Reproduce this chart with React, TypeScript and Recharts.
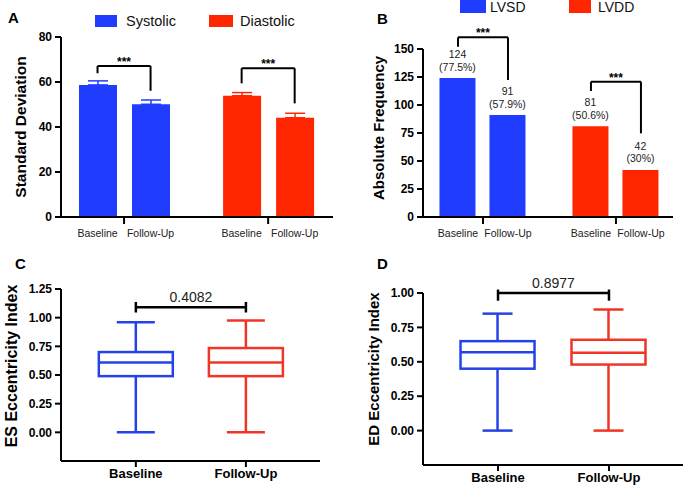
import React from 'react';
import {
  Bar,
  BarChart,
  Cell,
  ErrorBar,
  LabelList,
  Legend,
  ReferenceLine,
  XAxis,
  YAxis,
} from 'recharts';

const FONT = '"Liberation Sans", Arial, Helvetica, sans-serif';
const BLUE = '#1f3cff';
const RED = '#ff2600';
const BOX_BLUE = '#2442e8';
const BOX_RED = '#ef3526';

const timepoints = ['Baseline', 'Follow-Up'];

// A: standard deviation (mean + SEM)
const sdGroups = ['Systolic', 'Diastolic'];
const sdBaseline = [58.7, 53.9];
const sdFollowUp = [50.1, 44.1];
const sdBaselineErr = [1.8, 1.4];
const sdFollowUpErr = [1.9, 2.0];
const sdTicks = [0, 20, 40, 60, 80];
// bracket: [level, left leg end, right leg end]
const sdBrackets = [
  [67.1, 63.9, 56.1],
  [66.1, 59.4, 50.5],
];

// B: absolute frequency
const freqGroups = ['LVSD', 'LVDD'];
const freqBaseline = [124, 81];
const freqFollowUp = [91, 42];
const pctBaseline = ['77.5%', '50.6%'];
const pctFollowUp = ['57.9%', '30%'];
const freqTicks = [0, 25, 50, 75, 100, 125, 150];
const freqBrackets = [
  [160.4, 152, 122.3],
  [120.8, 112.5, 74.7],
];

// C / D: [min, q1, median, q3, max]
const esBaseline = [0, 0.49, 0.61, 0.7, 0.96];
const esFollowUp = [0, 0.49, 0.61, 0.735, 0.975];
const edBaseline = [0, 0.45, 0.57, 0.65, 0.85];
const edFollowUp = [0, 0.48, 0.565, 0.66, 0.88];
const esTicks = [0, 0.25, 0.5, 0.75, 1, 1.25];
const edTicks = [0, 0.25, 0.5, 0.75, 1];
const esP = '0.4082';
const edP = '0.8977';

const sdData = sdGroups.map((g, i) => ({
  x: i + 1,
  group: g,
  base: sdBaseline[i],
  follow: sdFollowUp[i],
  baseErr: sdBaselineErr[i],
  followErr: sdFollowUpErr[i],
}));

const freqData = freqGroups.map((g, i) => ({
  x: i + 1,
  group: g,
  base: freqBaseline[i],
  follow: freqFollowUp[i],
}));

const esData = [
  { x: 1, stats: esBaseline },
  { x: 2, stats: esFollowUp },
];
const edData = [
  { x: 1, stats: edBaseline },
  { x: 2, stats: edFollowUp },
];

const groupColors = [BLUE, RED];
const boxColors = [BOX_BLUE, BOX_RED];

const axisLine = { stroke: '#000', strokeWidth: 2 };
const yTick = { fill: '#000', fontSize: 12, fontWeight: 700, fontFamily: FONT };

const yTitle = (text: string, x: number, y: number, size: number) => () => (
  <text
    x={x}
    y={y}
    transform={`rotate(-90 ${x} ${y})`}
    textAnchor='middle'
    dominantBaseline='central'
    fontSize={size}
    fontWeight={700}
    fontFamily={FONT}
    fill='#000'>
    {text}
  </text>
);

const pairTick = (half: number) => (props: any) => {
  const { x, y } = props;
  return (
    <g fontFamily={FONT} fontSize={10.5} fill='#222'>
      <text x={x - half} y={y + 7} textAnchor='middle' dominantBaseline='central'>
        {timepoints[0]}
      </text>
      <text x={x + half} y={y + 7} textAnchor='middle' dominantBaseline='central'>
        {timepoints[1]}
      </text>
    </g>
  );
};

const legendBoxes =
  (items: { label: string; color: string; x: number; w: number; tx: number }[], y: number, h: number, size: number) =>
  () => (
    <svg width={345} height={32} style={{ display: 'block' }}>
      {items.map((it) => (
        <g key={it.label}>
          <rect x={it.x} y={y} width={it.w} height={h} fill={it.color} />
          <text x={it.tx} y={y + h / 2} dominantBaseline='central' fontSize={size} fontFamily={FONT} fill='#111'>
            {it.label}
          </text>
        </g>
      ))}
    </svg>
  );

const bracketLines = (brackets: number[][], half: number, key: string) =>
  brackets.flatMap(([top, l, r], i) => {
    const cx = i + 1;
    const common = { stroke: '#000', strokeWidth: 2, ifOverflow: 'visible' as const };
    return [
      <ReferenceLine
        key={`${key}h${i}`}
        {...common}
        segment={[
          { x: cx - half, y: top },
          { x: cx + half, y: top },
        ]}
        label={{ value: '***', position: 'top', offset: 0, fill: '#000', fontSize: 12, fontWeight: 700, fontFamily: FONT }}
      />,
      <ReferenceLine
        key={`${key}l${i}`}
        {...common}
        segment={[
          { x: cx - half, y: top },
          { x: cx - half, y: l },
        ]}
      />,
      <ReferenceLine
        key={`${key}r${i}`}
        {...common}
        segment={[
          { x: cx + half, y: top },
          { x: cx + half, y: r },
        ]}
      />,
    ];
  });

const pctLabel = (pcts: string[]) => (props: any) => {
  const vb = props.viewBox || props;
  const { x, y, width } = vb;
  const cx = x + width / 2;
  return (
    <text x={cx} y={y - 20} textAnchor='middle' fontSize={10.5} fill='#222' fontFamily={FONT}>
      <tspan x={cx}>{props.value}</tspan>
      <tspan x={cx} dy={12.5}>
        ({pcts[props.index]})
      </tspan>
    </text>
  );
};

const boxShape = (capHalf: number) => (props: any) => {
  const { x, y, width, height, payload, index } = props;
  const [mn, q1, med, q3, mx] = payload.stats;
  const py = (v: number) => y + (height * (mx - v)) / (mx - mn);
  const cx = x + width / 2;
  const c = boxColors[index];
  return (
    <g stroke={c} strokeWidth={2.5} fill='none'>
      <line x1={cx} x2={cx} y1={py(mx)} y2={py(q3)} />
      <line x1={cx} x2={cx} y1={py(q1)} y2={py(mn)} />
      <line x1={cx - capHalf} x2={cx + capHalf} y1={py(mx)} y2={py(mx)} />
      <line x1={cx - capHalf} x2={cx + capHalf} y1={py(mn)} y2={py(mn)} />
      <rect x={x} y={py(q3)} width={width} height={py(q1) - py(q3)} />
      <line x1={x} x2={x + width} y1={py(med)} y2={py(med)} />
    </g>
  );
};

const pBracket = (y: number, lo: number, hi: number, p: string) => {
  const common = { stroke: '#000', strokeWidth: 2.5, ifOverflow: 'visible' as const };
  return [
    <ReferenceLine
      key='ph'
      {...common}
      segment={[
        { x: 1, y },
        { x: 2, y },
      ]}
      label={{ value: p, position: 'top', offset: 5, fill: '#222', fontSize: 14, fontFamily: FONT }}
    />,
    <ReferenceLine
      key='pl'
      {...common}
      segment={[
        { x: 1, y: lo },
        { x: 1, y: hi },
      ]}
    />,
    <ReferenceLine
      key='pr'
      {...common}
      segment={[
        { x: 2, y: lo },
        { x: 2, y: hi },
      ]}
    />,
  ];
};

// error bar only upward, only for the given group (rect items may or may not spread the row)
const errKey = (group: string, field: 'baseErr' | 'followErr') => (d: any) => {
  const row = d && d.payload ? d.payload : d;
  return row && row.group === group ? [0, row[field]] : null;
};

function PanelA() {
  return (
    <BarChart
      width={340}
      height={250}
      data={sdData}
      margin={{ top: 37, right: 7, left: 0, bottom: 5 }}
      barSize={38}
      barGap={15}>
      <XAxis
        dataKey='x'
        type='number'
        domain={[0.5625, 2.45]}
        ticks={[1, 2]}
        allowDataOverflow
        height={28}
        axisLine={axisLine}
        tickLine={axisLine}
        tickSize={7}
        tick={pairTick(26.5)}
      />
      <YAxis
        width={61}
        domain={[0, 80]}
        ticks={sdTicks}
        allowDataOverflow
        axisLine={axisLine}
        tickLine={axisLine}
        tickSize={6}
        tickMargin={3}
        tick={yTick}
        label={yTitle('Standard Deviation', 20, 127, 15.5)}
      />
      <Legend
        layout='horizontal'
        verticalAlign='middle'
        align='center'
        wrapperStyle={{ top: 0, left: 0, width: 340, height: 32 }}
        content={legendBoxes(
          [
            { label: 'Systolic', color: BLUE, x: 95, w: 22, tx: 126 },
            { label: 'Diastolic', color: RED, x: 209, w: 24, tx: 240 },
          ],
          15,
          12,
          14.5
        )}
      />
      <Bar dataKey='base' isAnimationActive={false}>
        {sdData.map((_, i) => (
          <Cell key={i} fill={groupColors[i]} />
        ))}
        <ErrorBar dataKey={errKey('Systolic', 'baseErr')} width={10} stroke={BLUE} strokeWidth={1.5} direction='y' />
        <ErrorBar dataKey={errKey('Diastolic', 'baseErr')} width={10} stroke={RED} strokeWidth={1.5} direction='y' />
      </Bar>
      <Bar dataKey='follow' isAnimationActive={false}>
        {sdData.map((_, i) => (
          <Cell key={i} fill={groupColors[i]} />
        ))}
        <ErrorBar dataKey={errKey('Systolic', 'followErr')} width={10} stroke={BLUE} strokeWidth={1.5} direction='y' />
        <ErrorBar dataKey={errKey('Diastolic', 'followErr')} width={10} stroke={RED} strokeWidth={1.5} direction='y' />
      </Bar>
      {bracketLines(sdBrackets, 26.5 / 144, 'a')}
    </BarChart>
  );
}

function PanelB() {
  return (
    <BarChart
      width={345}
      height={250}
      data={freqData}
      margin={{ top: 49, right: 12, left: 0, bottom: 5 }}
      barSize={36}
      barGap={14}>
      <XAxis
        dataKey='x'
        type='number'
        domain={[0.549, 2.429]}
        ticks={[1, 2]}
        allowDataOverflow
        height={28}
        axisLine={axisLine}
        tickLine={axisLine}
        tickSize={7}
        tick={pairTick(25)}
      />
      <YAxis
        width={83}
        domain={[0, 150]}
        ticks={freqTicks}
        axisLine={axisLine}
        tickLine={axisLine}
        tickSize={6}
        tickMargin={3}
        tick={yTick}
        label={yTitle('Absolute Frequency', 38, 128, 15)}
      />
      <Legend
        layout='horizontal'
        verticalAlign='middle'
        align='center'
        wrapperStyle={{ top: 0, left: 0, width: 345, height: 32 }}
        content={legendBoxes(
          [
            { label: 'LVSD', color: BLUE, x: 120, w: 26, tx: 150 },
            { label: 'LVDD', color: RED, x: 229, w: 22, tx: 258 },
          ],
          0,
          13,
          14
        )}
      />
      <Bar dataKey='base' isAnimationActive={false}>
        {freqData.map((_, i) => (
          <Cell key={i} fill={groupColors[i]} />
        ))}
        <LabelList dataKey='base' content={pctLabel(pctBaseline)} />
      </Bar>
      <Bar dataKey='follow' isAnimationActive={false}>
        {freqData.map((_, i) => (
          <Cell key={i} fill={groupColors[i]} />
        ))}
        <LabelList dataKey='follow' content={pctLabel(pctFollowUp)} />
      </Bar>
      {bracketLines(freqBrackets, 25 / 133, 'b')}
    </BarChart>
  );
}

function BoxPanel(props: {
  data: { x: number; stats: number[] }[];
  width: number;
  margin: { top: number; right: number; left: number; bottom: number };
  yWidth: number;
  xHeight: number;
  xDomain: [number, number];
  yDomain: [number, number];
  ticks: number[];
  title: string;
  titleX: number;
  titleY: number;
  titleSize: number;
  cap: number;
  bracket: [number, number, number];
  p: string;
}) {
  return (
    <BarChart width={props.width} height={239} data={props.data} margin={props.margin} barSize={74}>
      <XAxis
        dataKey='x'
        type='number'
        domain={props.xDomain}
        ticks={[1, 2]}
        allowDataOverflow
        height={props.xHeight}
        axisLine={axisLine}
        tickLine={axisLine}
        tickSize={6}
        tickMargin={2}
        tickFormatter={(v: number) => timepoints[v - 1]}
        tick={{ fill: '#000', fontSize: 13, fontWeight: 700, fontFamily: FONT }}
      />
      <YAxis
        width={props.yWidth}
        domain={props.yDomain}
        ticks={props.ticks}
        allowDataOverflow
        axisLine={axisLine}
        tickLine={axisLine}
        tickSize={6}
        tickMargin={3}
        tickFormatter={(v: number) => v.toFixed(2)}
        tick={yTick}
        label={yTitle(props.title, props.titleX, props.titleY, props.titleSize)}
      />
      <Bar
        dataKey={(d: any) => [d.stats[0], d.stats[4]]}
        isAnimationActive={false}
        shape={boxShape(props.cap)}
      />
      {pBracket(props.bracket[0], props.bracket[1], props.bracket[2], props.p)}
    </BarChart>
  );
}

export default function App() {
  const pos = (left: number, top: number): React.CSSProperties => ({ position: 'absolute', left, top });
  return (
    <div
      style={{
        position: 'absolute',
        left: 0,
        top: 0,
        width: 685,
        height: 489,
        background: '#fff',
        fontFamily: FONT,
        overflow: 'hidden',
      }}>
      <div style={pos(0, 0)}>
        <PanelA />
      </div>
      <div style={pos(340, 0)}>
        <PanelB />
      </div>
      <div style={pos(0, 250)}>
        <BoxPanel
          data={esData}
          width={340}
          margin={{ top: 39, right: 20, left: 0, bottom: 3 }}
          yWidth={61}
          xHeight={25}
          xDomain={[0.32, 2.673]}
          yDomain={[-0.25, 1.25]}
          ticks={esTicks}
          title='ES Eccentricity Index'
          titleX={11}
          titleY={116}
          titleSize={16}
          cap={19}
          bracket={[1.09, 1.045, 1.137]}
          p={esP}
        />
      </div>
      <div style={pos(340, 250)}>
        <BoxPanel
          data={edData}
          width={345}
          margin={{ top: 43, right: 2, left: 0, bottom: 0 }}
          yWidth={83}
          xHeight={24}
          xDomain={[0.324, 2.667]}
          yDomain={[-0.25, 1]}
          ticks={edTicks}
          title='ED Eccentricity Index'
          titleX={33}
          titleY={119}
          titleSize={15}
          cap={15}
          bracket={[1.0, 0.944, 1.025]}
          p={edP}
        />
      </div>
      <svg width={685} height={489} style={{ position: 'absolute', left: 0, top: 0, pointerEvents: 'none' }}>
        <g fontFamily={FONT} fontWeight={700} fontSize={15} fill='#000'>
          <text x={8} y={23}>A</text>
          <text x={377} y={24}>B</text>
          <text x={15} y={269}>C</text>
          <text x={377} y={269}>D</text>
        </g>
      </svg>
    </div>
  );
}
